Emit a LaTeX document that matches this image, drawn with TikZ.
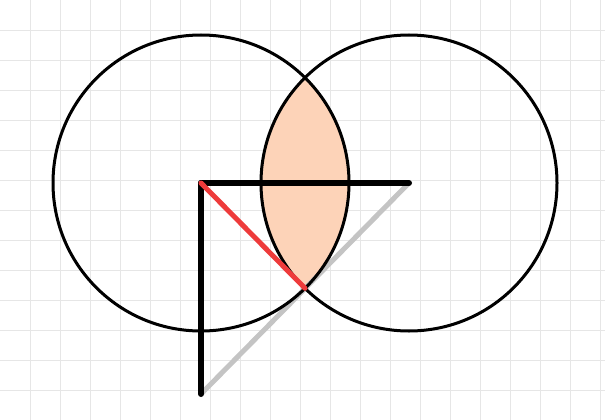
\documentclass[tikz,border=0pt]{standalone}
\usetikzlibrary{intersections}
\definecolor{gridline}{HTML}{E6E6E6}
\definecolor{lensfill}{HTML}{FDD3B8}
\definecolor{redline}{HTML}{EE3B3B}
\definecolor{grayline}{HTML}{C4C4C4}
\begin{document}
\begin{tikzpicture}[x=1pt,y=-1pt,
    circ/.style={line width=3pt, black},
    side/.style={line width=6pt, black},
    diag/.style={line width=5pt, grayline},
    radius line/.style={line width=5pt, redline, line cap=round}]
        \useasboundingbox (0,0) rectangle (605,420);
        \fill[white] (0,0) rectangle (605,420);
        % grid
        \foreach \gx in {30,60,...,600} \draw[gridline, line width=0.8pt] (\gx,0) -- (\gx,420);
        \foreach \gy in {30,60,...,420} \draw[gridline, line width=0.8pt] (0,\gy) -- (605,\gy);
        \coordinate (A) at (201,183);
        \coordinate (B) at (409,183);
        \coordinate (C) at (201,394);
        % lens
        \begin{scope}
            \clip (A) circle (148);
            \fill[lensfill] (B) circle (148);
        \end{scope}
        \path[name path=left] (A) circle (148);
        \path[name path=right] (B) circle (148);
        \path[name intersections={of=left and right, by={P1,P2}}];
        \draw[diag] (C) -- (B);
        \draw[circ] (A) circle (148);
        \draw[circ] (B) circle (148);
        \draw[side, line cap=round] (A) -- (B);
        \draw[side, line cap=round] (A) -- (C);
        \draw[radius line] (A) -- (P1);
    \end{tikzpicture}
\end{document}
